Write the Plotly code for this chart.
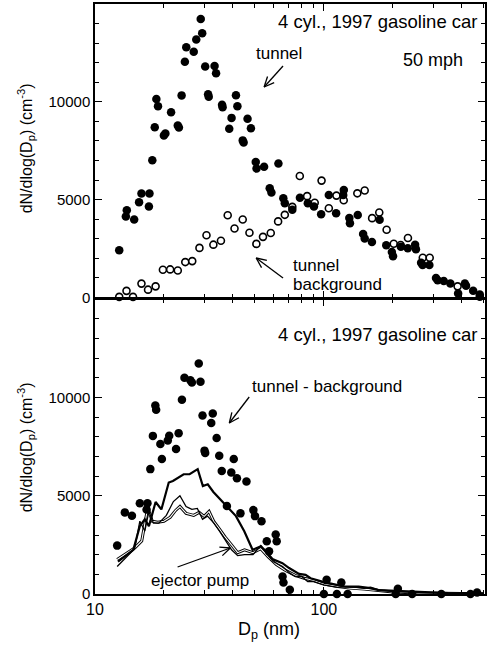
import math
import plotly.graph_objects as go

# ---- upper panel: tunnel and tunnel background size distributions ----
tunnel_dp = [12.76, 13.64, 13.77, 14.83, 15.58, 15.96, 17.2, 17.3, 17.8, 18.24, 18.54, 18.85,
             20.0, 20.3, 21.5, 23.0, 23.26, 23.9, 24.7, 25.05, 27.0, 27.7, 28.97, 29.4,
             30.3, 31.2, 31.4, 33.3, 33.8, 35.9, 36.1, 38.6, 39.5, 41.3, 41.9, 44.2, 44.6,
             46.4, 48.0, 50.4, 50.8, 54.8, 58.0, 59.0, 63.3, 66.5, 67.5, 72.8, 78.6, 85.1,
             90.5, 97.3, 105.1, 113.1, 121.5, 122.2, 129.2, 130.0, 140.6, 148.4, 150.8,
             162.2, 175.2, 187.3, 198.2, 200.5, 217.0, 232.6, 250.4, 252.5, 266.0, 270.0,
             289.0, 309.0, 314.0, 334.0, 357.0, 386.0, 413.0, 418.0, 449.0, 480.0]
tunnel_dn = [2420, 4140, 4460, 3990, 4870, 5320, 4650, 5320, 7010, 8700, 10140, 9770,
             8280, 8380, 9470, 8790, 8690, 10330, 12050, 12790, 12560, 13180, 14230, 13500,
             11800, 10390, 10260, 11830, 11460, 9850, 9720, 8620, 9180, 10340, 9770, 8030, 7920,
             9130, 8650, 6930, 6590, 6680, 5580, 5370, 6850, 5070, 4820, 4480, 5100, 4820,
             4650, 4260, 5240, 4310, 5240, 5490, 4060, 3800, 4220, 3240, 3010,
             2840, 3970, 2670, 2320, 2110, 2600, 2520, 2700, 2470, 1780, 1660,
             1660, 1000, 880, 845, 720, 210, 710, 600, 340, 150]

bg_dp = [12.76, 13.73, 14.66, 15.96, 17.05, 18.4, 19.8, 21.3, 23.0, 24.8, 26.6, 28.6,
         30.7, 32.9, 35.5, 38.0, 40.7, 44.2, 47.3, 50.7, 54.2, 58.6, 63.1, 67.5, 72.8,
         78.5, 84.5, 91.2, 97.7, 105.1, 113.5, 122.1, 140.0, 150.8, 162.5, 174.6, 188.0,
         202.0, 216.5, 233.0, 270.5, 290.0, 384.0, 480.0]
bg_dn = [30, 340, 30, 710, 400, 570, 1420, 1435, 1380, 1810, 1860, 2535,
         3180, 2700, 2900, 4200, 3530, 3990, 3310, 2740, 3100, 3300, 3890, 4225, 4630,
         6210, 5180, 4840, 5975, 4560, 5207, 4970, 5324, 5470, 4056, 4345, 3463,
         2745, 2680, 3042, 2028, 2028, 570, 40]

# ---- lower panel: tunnel minus background, and ejector pump dilution runs ----
diff_dp = [12.5, 13.5, 14.5, 15.7, 16.8, 16.95, 17.45, 17.9, 18.35, 18.5, 19.3, 19.6,
           20.8, 21.1, 22.6, 23.2, 23.98, 24.6, 26.1, 26.5, 28.4, 28.9, 29.5, 30.1, 30.3,
           32.2, 32.7, 34.0, 34.9, 35.8, 37.7, 39.4, 40.4, 41.7, 43.2, 45.9, 49.2, 50.0,
           53.4, 56.3, 57.6, 61.6, 62.2, 66.0, 66.6, 71.0, 100.0, 102.8, 114.0, 119.2,
           127.0, 206.0, 210.5, 243.0, 326.0, 437.0, 467.0]
diff_dn = [2460, 4150, 3975, 4610, 4300, 4620, 6350, 8040, 9590, 9370, 7630, 6860,
           7800, 8050, 7370, 8180, 9880, 11000, 10870, 10750, 11725, 10790, 9080, 7290, 7170,
           8690, 9180, 7930, 7030, 6250, 4470, 6180, 6860, 5880, 4100, 5720, 4265, 3960,
           3700, 2680, 2170, 3020, 2680, 890, 580, 220, 0, 730, 0, 580,
           0, 0, 270, 0, 0, 0, 80]

pump1_dp = [12.6, 14.7, 15.7, 16.5, 17.2, 18.4, 19.5, 21.0, 21.9, 24.4, 25.9, 28.1, 29.6,
            31.1, 32.9, 35.2, 37.6, 41.3, 44.9, 48.8, 53.1, 55.8, 59.6, 65.9, 70.5, 77.9,
            83.2, 87.5, 98.3, 112.5, 124.3, 141.9, 159.6, 173.4, 198.2, 258.8, 349.0, 496.0]
pump1_dn = [1650, 2250, 3450, 3800, 3450, 4680, 4300, 5670, 5750, 6090, 6090, 6350, 5490,
            5580, 5190, 4810, 4470, 3960, 3190, 2250, 2420, 2170, 1780, 1570, 1320, 1020,
            970, 800, 630, 460, 370, 370, 300, 200, 170, 80, 40, 20]

pump2_dp = [12.5, 14.9, 15.7, 16.5, 17.2, 18.0, 19.0, 20.5, 22.0, 23.5, 25.0, 26.5, 28.0,
            29.5, 31.0, 33.0, 35.0, 37.0, 39.5, 42.0, 45.0, 49.0, 53.0, 56.0, 60.0, 66.0,
            71.0, 75.0, 80.0, 85.0, 90.0, 100.0, 115.0, 130.0, 150.0, 160.0, 175.0, 200.0,
            260.0, 350.0, 496.0]
pump2_dn = [1400, 2300, 3700, 3200, 4200, 3600, 3600, 4000, 4700, 5000, 4450, 4300, 4350,
            3800, 3960, 3620, 3200, 2770, 2250, 1950, 2000, 2000, 2460, 2080, 1650, 1400,
            1060, 890, 890, 630, 630, 460, 340, 370, 290, 350, 200, 120,
            60, 30, 10]

pump3_dp = [12.5, 14.9, 16.0, 17.0, 17.8, 18.8, 20.0, 21.3, 22.5, 23.5, 25.0, 27.0, 28.5,
            30.0, 31.5, 33.0, 35.0, 37.0, 39.5, 42.0, 45.0, 49.0, 53.0, 57.0, 62.0, 68.0,
            75.0, 82.0, 90.0, 100.0, 115.0, 130.0, 150.0, 175.0, 200.0, 260.0, 350.0, 496.0]
pump3_dn = [1750, 2340, 2700, 4400, 3700, 3650, 3700, 3900, 4250, 4450, 4100, 4000, 4150,
            3950, 4200, 3700, 3300, 2900, 2500, 2100, 2250, 2100, 2300, 1900, 1500, 1200,
            950, 800, 700, 500, 380, 300, 250, 180, 100, 50, 20, 10]

# axis ticks
x_major = [10, 100]
x_minor = [20, 30, 40, 50, 60, 70, 80, 90, 200, 300, 400, 500]
y_major = [0, 5000, 10000]
y_minor = [v for v in range(1000, 15000, 1000) if v % 5000]

FONT = "Liberation Sans, Arial, sans-serif"
W, H = 488, 649
L, R, T, B = 95, 1, 4, 55
PW, PH = W - L - R, H - T - B
AXW = 1.5


def px(x):
    return (x - L) / PW


def py(y):
    return (H - B - y) / PH


fig = go.Figure()

dot = dict(color="black", size=8.5, line=dict(width=0))
ring = dict(color="white", size=7, symbol="circle", line=dict(color="black", width=1.6))

fig.add_trace(go.Scatter(x=bg_dp, y=bg_dn, mode="markers", marker=ring,
                         cliponaxis=False, xaxis="x", yaxis="y"))
fig.add_trace(go.Scatter(x=tunnel_dp, y=tunnel_dn, mode="markers", marker=dot,
                         cliponaxis=False, xaxis="x", yaxis="y"))

# hollow-looking line: wide black stroke with a white core
fig.add_trace(go.Scatter(x=pump3_dp, y=pump3_dn, mode="lines",
                         line=dict(color="black", width=3.0), xaxis="x2", yaxis="y2"))
fig.add_trace(go.Scatter(x=pump3_dp, y=pump3_dn, mode="lines",
                         line=dict(color="white", width=1.1), xaxis="x2", yaxis="y2"))
fig.add_trace(go.Scatter(x=pump2_dp, y=pump2_dn, mode="lines",
                         line=dict(color="black", width=1.3), xaxis="x2", yaxis="y2"))
fig.add_trace(go.Scatter(x=pump1_dp, y=pump1_dn, mode="lines",
                         line=dict(color="black", width=2.2), xaxis="x2", yaxis="y2"))
fig.add_trace(go.Scatter(x=diff_dp, y=diff_dn, mode="markers", marker=dot,
                         cliponaxis=False, xaxis="x2", yaxis="y2"))

xcommon = dict(type="log", range=[1, 2.704], tickmode="array", tickvals=x_major,
               ticktext=[str(v) for v in x_major],
               showline=True, mirror="allticks",
               linecolor="black", linewidth=AXW, ticks="inside", ticklen=7, tickwidth=1.2,
               tickcolor="black", showgrid=False, zeroline=False,
               minor=dict(tickmode="array", tickvals=x_minor, ticks="inside", ticklen=4,
                          tickwidth=1.1, tickcolor="black", showgrid=False),
               tickfont=dict(family=FONT, size=16, color="black"))
ycommon = dict(range=[0, 15000], tickmode="array", tickvals=y_major,
               ticktext=[str(v) for v in y_major], showline=True, mirror="allticks",
               linecolor="black", linewidth=AXW, ticks="inside", ticklen=7, tickwidth=1.2,
               tickcolor="black", showgrid=False, zeroline=False,
               minor=dict(tickmode="array", tickvals=y_minor, ticks="inside", ticklen=4,
                          tickwidth=1.1, tickcolor="black", showgrid=False),
               tickfont=dict(family=FONT, size=15, color="black"))

# the two frames share one border line between the panels
split = 0.5
fig.update_layout(
    width=W, height=H, showlegend=False,
    margin=dict(l=L, r=R, t=T, b=B, pad=0),
    paper_bgcolor="white", plot_bgcolor="white",
    font=dict(family=FONT, color="black"),
    xaxis=dict(xcommon, domain=[0, 1], anchor="y", showticklabels=False, matches="x2"),
    yaxis=dict(ycommon, domain=[split + AXW / PH, 1], anchor="x"),
    xaxis2=dict(xcommon, domain=[0, 1], anchor="y2"),
    yaxis2=dict(ycommon, domain=[0, split], anchor="x2"),
)

ann = []


def text(x, y, s, size=17, xanchor="left"):
    ann.append(dict(x=px(x), y=py(y), xref="paper", yref="paper", text=s, showarrow=False,
                    xanchor=xanchor, yanchor="middle",
                    font=dict(family=FONT, size=size, color="black")))


ylab = "dN/dlog(D<sub>p</sub>) (cm<sup>-3</sup>)"
for yc in (148, 447):
    ann.append(dict(x=px(26), y=py(yc), xref="paper", yref="paper", text=ylab,
                    showarrow=False, textangle=-90, xanchor="center", yanchor="middle",
                    font=dict(family=FONT, size=16, color="black")))

text(482, 22, "4 cyl., 1997 gasoline car", 18.5, "right")
text(435, 60, "50 mph", 18, "center")
text(280, 53, "tunnel", 17, "center")
text(292, 265, "tunnel", 17)
text(292, 284, "background", 17)
text(482, 335, "4 cyl., 1997 gasoline car", 18.5, "right")
text(251, 386, "tunnel - background", 17)
text(149, 580, "ejector pump", 17)
text(270, 630, "D<sub>p</sub> (nm)", 18, "center")
fig.update_layout(annotations=ann)

shapes = []


def arrow(x0, y0, x1, y1, head=11, spread=0.42):
    # shaft from tail (x0, y0) to head (x1, y1), pixel positions in the page
    shapes.append(dict(type="line", xref="paper", yref="paper",
                       x0=px(x0), y0=py(y0), x1=px(x1), y1=py(y1),
                       line=dict(color="black", width=1.3)))
    ang = math.atan2(y0 - y1, x0 - x1)
    for s in (-spread, spread):
        hx = x1 + head * math.cos(ang + s)
        hy = y1 + head * math.sin(ang + s)
        shapes.append(dict(type="line", xref="paper", yref="paper",
                           x0=px(x1), y0=py(y1), x1=px(hx), y1=py(hy),
                           line=dict(color="black", width=1.3)))


arrow(284, 66, 265, 87)
arrow(284, 278, 257, 258)
arrow(250, 397, 230, 423)
arrow(178, 567, 231, 548)
fig.update_layout(shapes=shapes)

fig.write_html("out.html")
